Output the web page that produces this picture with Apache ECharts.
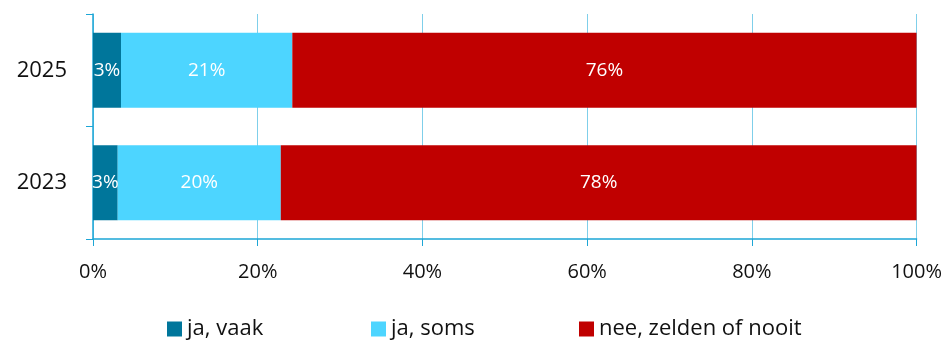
<!DOCTYPE html>
<html>
<head>
<meta charset="utf-8">
<script src="https://cdn.jsdelivr.net/npm/echarts@6/dist/echarts.min.js"></script>
<style>
  html, body { margin: 0; padding: 0; background: #fff; }
  #chart { width: 945px; height: 344px; }
</style>
</head>
<body>
<div id="chart"></div>
<script>
// jaren (van onder naar boven)
const years = ['2023', '2025'];
const seriesNames = ['ja, vaak', 'ja, soms', 'nee, zelden of nooit'];
const vaak = [3.0, 3.4];
const soms = [19.8, 20.8];
const nooit = [77.5, 75.8];
const xTicks = [0, 20, 40, 60, 80, 100];

const colors = ['#00769B', '#4DD5FF', '#C00000'];
const axisBlue = '#1DA6D6';
const font = 'Open Sans';

const chart = echarts.init(document.getElementById('chart'));

const mkSeries = (name, data, color) => ({
  name: name,
  type: 'bar',
  stack: 'total',
  data: data,
  barWidth: 75,
  itemStyle: { color: color },
  label: {
    show: true,
    position: 'inside',
    color: '#fff',
    fontFamily: font,
    fontSize: 19,
    formatter: p => Math.round(p.value) + '%'
  }
});

// een legenda per reeks, zodat de posities vast liggen
const legendLefts = [162, 366, 574];
const legends = seriesNames.map((n, i) => ({
  top: 313,
  left: legendLefts[i],
  itemWidth: 15,
  itemHeight: 15,
  icon: 'rect',
  textStyle: { fontFamily: font, fontSize: 22, color: '#111' },
  data: [n]
}));

chart.setOption({
  animation: false,
  grid: { left: 93, right: 28, top: 14, bottom: 105 },
  legend: legends,
  xAxis: {
    type: 'value',
    min: xTicks[0],
    max: xTicks[xTicks.length - 1],
    interval: 20,
    axisLine: { show: true, lineStyle: { color: axisBlue, width: 1.5 } },
    axisTick: { show: true, length: 7, lineStyle: { color: axisBlue } },
    splitLine: { show: true, lineStyle: { color: '#7FCFEA', width: 1 } },
    axisLabel: {
      margin: 23,
      fontFamily: font,
      fontSize: 20,
      color: '#111',
      formatter: v => v + '%'
    }
  },
  yAxis: {
    type: 'category',
    data: years,
    axisLine: { show: true, lineStyle: { color: axisBlue, width: 1.5 } },
    axisTick: { show: true, length: 7, lineStyle: { color: axisBlue } },
    axisLabel: { margin: 26, fontFamily: font, fontSize: 22, color: '#111' }
  },
  series: [
    mkSeries(seriesNames[0], vaak, colors[0]),
    mkSeries(seriesNames[1], soms, colors[1]),
    mkSeries(seriesNames[2], nooit, colors[2])
  ]
});
</script>
</body>
</html>
